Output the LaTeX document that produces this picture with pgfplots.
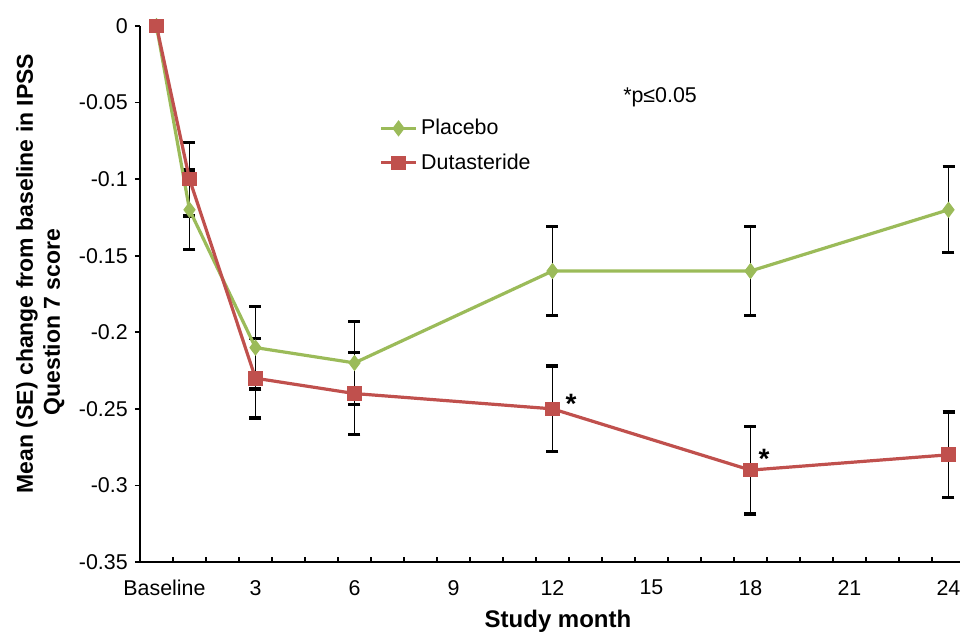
\documentclass[border=0pt]{standalone}
\usepackage{fontspec}
\setmainfont{Liberation Sans}
\usepackage{pgfplots}
\usepackage{pgfplotstable}
\pgfplotsset{compat=1.18}
\definecolor{pgreen}{RGB}{155,187,89}
\definecolor{dred}{RGB}{192,80,77}

\pgfplotstableread{
x y e
0 0 0
1 -0.12 0.026
3 -0.21 0.027
6 -0.22 0.027
12 -0.16 0.029
18 -0.16 0.029
24 -0.12 0.028
}\placebo

\pgfplotstableread{
x y e
0 0 0
1 -0.10 0.024
3 -0.23 0.026
6 -0.24 0.027
12 -0.25 0.028
18 -0.29 0.0287
24 -0.28 0.028
}\duta

\begin{document}
\begin{tikzpicture}
\begin{axis}[
  name=ax,
  at={(0,0)}, anchor=south west,
  scale only axis,
  width=412.5pt, height=268pt,
  xmin=-0.5, xmax=24.5, ymin=-0.35, ymax=0,
  axis x line*=bottom, axis y line*=left,
  axis line style={-, black, line width=0.9pt},
  tick align=outside,
  xtick={0,3,...,24},
  xticklabels={\hspace*{8pt}Baseline,3,6,9,12,15,18,21,24},
  major x tick style={draw=none},
  minor xtick={-0.5,0.5,...,24.5},
  minor x tick style={black, line width=0.8pt, yshift=2.6pt},
  minor tick length=2.6pt,
  ytick={-0.35,-0.3,...,0.01},
  yticklabels={-0.35,-0.3,-0.25,-0.2,-0.15,-0.1,-0.05,0},
  major y tick style={black, line width=0.8pt},
  major tick length=2.6pt,
  tick label style={font=\fontsize{10.7}{12}\selectfont},
  xticklabel style={yshift=-3pt},
  legend style={draw=none, fill=none, at={(rel axis cs:0.283,0.842)}, anchor=north west,
    font=\fontsize{10.7}{12}\selectfont, row sep=4pt, cells={anchor=west}},
  legend cell align=left,
]
% error bars (drawn underneath)
\addplot[draw=none, mark=none, forget plot, skip coords between index={0}{1},
  error bars/.cd, y dir=both, y explicit,
  error bar style={black, line width=0.6pt},
  error mark options={rotate=90, black, line width=1.6pt, mark size=3pt}]
  table[x=x, y=y, y error=e] {\placebo};
\addplot[draw=none, mark=none, forget plot, skip coords between index={0}{1},
  error bars/.cd, y dir=both, y explicit,
  error bar style={black, line width=0.6pt},
  error mark options={rotate=90, black, line width=1.6pt, mark size=3pt}]
  table[x=x, y=y, y error=e] {\duta};
% series
\addplot[pgreen, line width=1.6pt, mark=diamond*, mark size=3.7pt,
  mark options={fill=pgreen, draw=pgreen, line width=0.5pt}]
  table[x=x, y=y] {\placebo};
\addlegendentry{Placebo}
\addplot[dred, line width=1.6pt, mark=square*, mark size=3.4pt,
  mark options={fill=dred, draw=dred, line width=0.5pt}]
  table[x=x, y=y] {\duta};
\addlegendentry{Dutasteride}
% annotations
\node[font=\fontsize{10.7}{12}\selectfont] at (axis cs:15.26,-0.0464) {*p≤0.05};
\node[font=\fontsize{14}{15}\selectfont\bfseries, anchor=base] at (axis cs:12.56,-0.2530) {*};
\node[font=\fontsize{14}{15}\selectfont\bfseries, anchor=base] at (axis cs:18.41,-0.2889) {*};
\end{axis}
\node[font=\fontsize{12}{14}\selectfont\bfseries, anchor=base] at (209pt,-33pt) {Study month};
\node[font=\fontsize{11.5}{14}\selectfont\bfseries, anchor=base, rotate=90] at (-53.5pt,144.25pt) {Mean (SE) change from baseline in IPSS};
\node[font=\fontsize{11.5}{14}\selectfont\bfseries, anchor=base, rotate=90] at (-40pt,120pt) {Question 7 score};
\pgfresetboundingbox
\useasboundingbox (-70pt,-35pt) rectangle (410pt,281pt);
\end{tikzpicture}
\end{document}
